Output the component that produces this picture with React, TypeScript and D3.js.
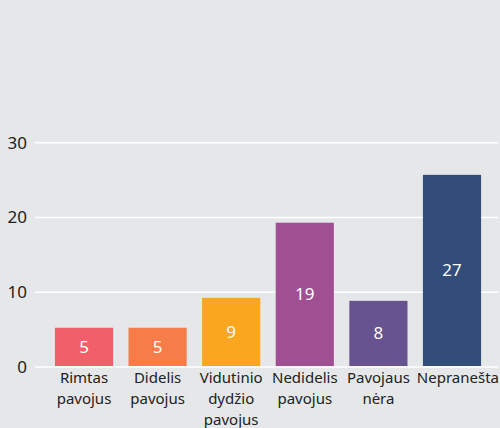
import React from "react";
import * as d3 from "d3";

const categories: string[][] = [
  ["Rimtas", "pavojus"],
  ["Didelis", "pavojus"],
  ["Vidutinio", "dydžio", "pavojus"],
  ["Nedidelis", "pavojus"],
  ["Pavojaus", "nėra"],
  ["Nepranešta"],
];
const barValues: number[] = [5.25, 5.25, 9.25, 19.3, 8.85, 25.7];
const valueLabels: string[] = ["5", "5", "9", "19", "8", "27"];
const colors: string[] = ["#f15f6b", "#f47d4a", "#faa61e", "#a04f92", "#67538f", "#334d7b"];
const yTicks: number[] = [0, 10, 20, 30];

const W = 500;
const H = 428;
const FONT = "'Noto Sans', 'DejaVu Sans', sans-serif";

export default function App() {
  const x = d3
    .scaleBand<number>()
    .domain(d3.range(categories.length))
    .range([47.2, 488.8])
    .paddingInner(0.21)
    .paddingOuter(0.105);
  const y = d3.scaleLinear().domain([0, 30]).range([367, 142.7]);

  return (
    <svg
      width={W}
      height={H}
      style={{ position: "absolute", left: 0, top: 0, background: "#e6e7e9" }}
    >
      <rect x={0} y={0} width={W} height={H} fill="#e6e7e9" />
      {yTicks.map((t) => (
        <g key={t}>
          <line x1={35} x2={498} y1={y(t)} y2={y(t)} stroke="#ffffff" strokeWidth={1.5} />
          <text
            x={27}
            y={y(t)}
            dy="0.35em"
            textAnchor="end"
            fontFamily={FONT}
            fontSize={17}
            fill="#222222"
          >
            {t}
          </text>
        </g>
      ))}
      {barValues.map((v, i) => {
        const bx = x(i)!;
        const bw = x.bandwidth();
        const top = y(v);
        const bottom = y(0) - 1;
        return (
          <g key={i}>
            <rect x={bx} y={top} width={bw} height={bottom - top} fill={colors[i]} />
            <text
              x={bx + bw / 2}
              y={(top + bottom) / 2}
              dy="0.35em"
              textAnchor="middle"
              fontFamily={FONT}
              fontSize={17}
              fill="#ffffff"
            >
              {valueLabels[i]}
            </text>
          </g>
        );
      })}
      {categories.map((lines, i) => {
        const last = i === categories.length - 1;
        const cx = last ? W - 1 : x(i)! + x.bandwidth() / 2;
        return (
          <text
            key={i}
            x={cx}
            y={383}
            textAnchor={last ? "end" : "middle"}
            fontFamily={FONT}
            fontSize={15}
            fill="#222222"
          >
            {lines.map((l, j) => (
              <tspan key={j} x={cx} dy={j === 0 ? 0 : 21}>
                {l}
              </tspan>
            ))}
          </text>
        );
      })}
    </svg>
  );
}
